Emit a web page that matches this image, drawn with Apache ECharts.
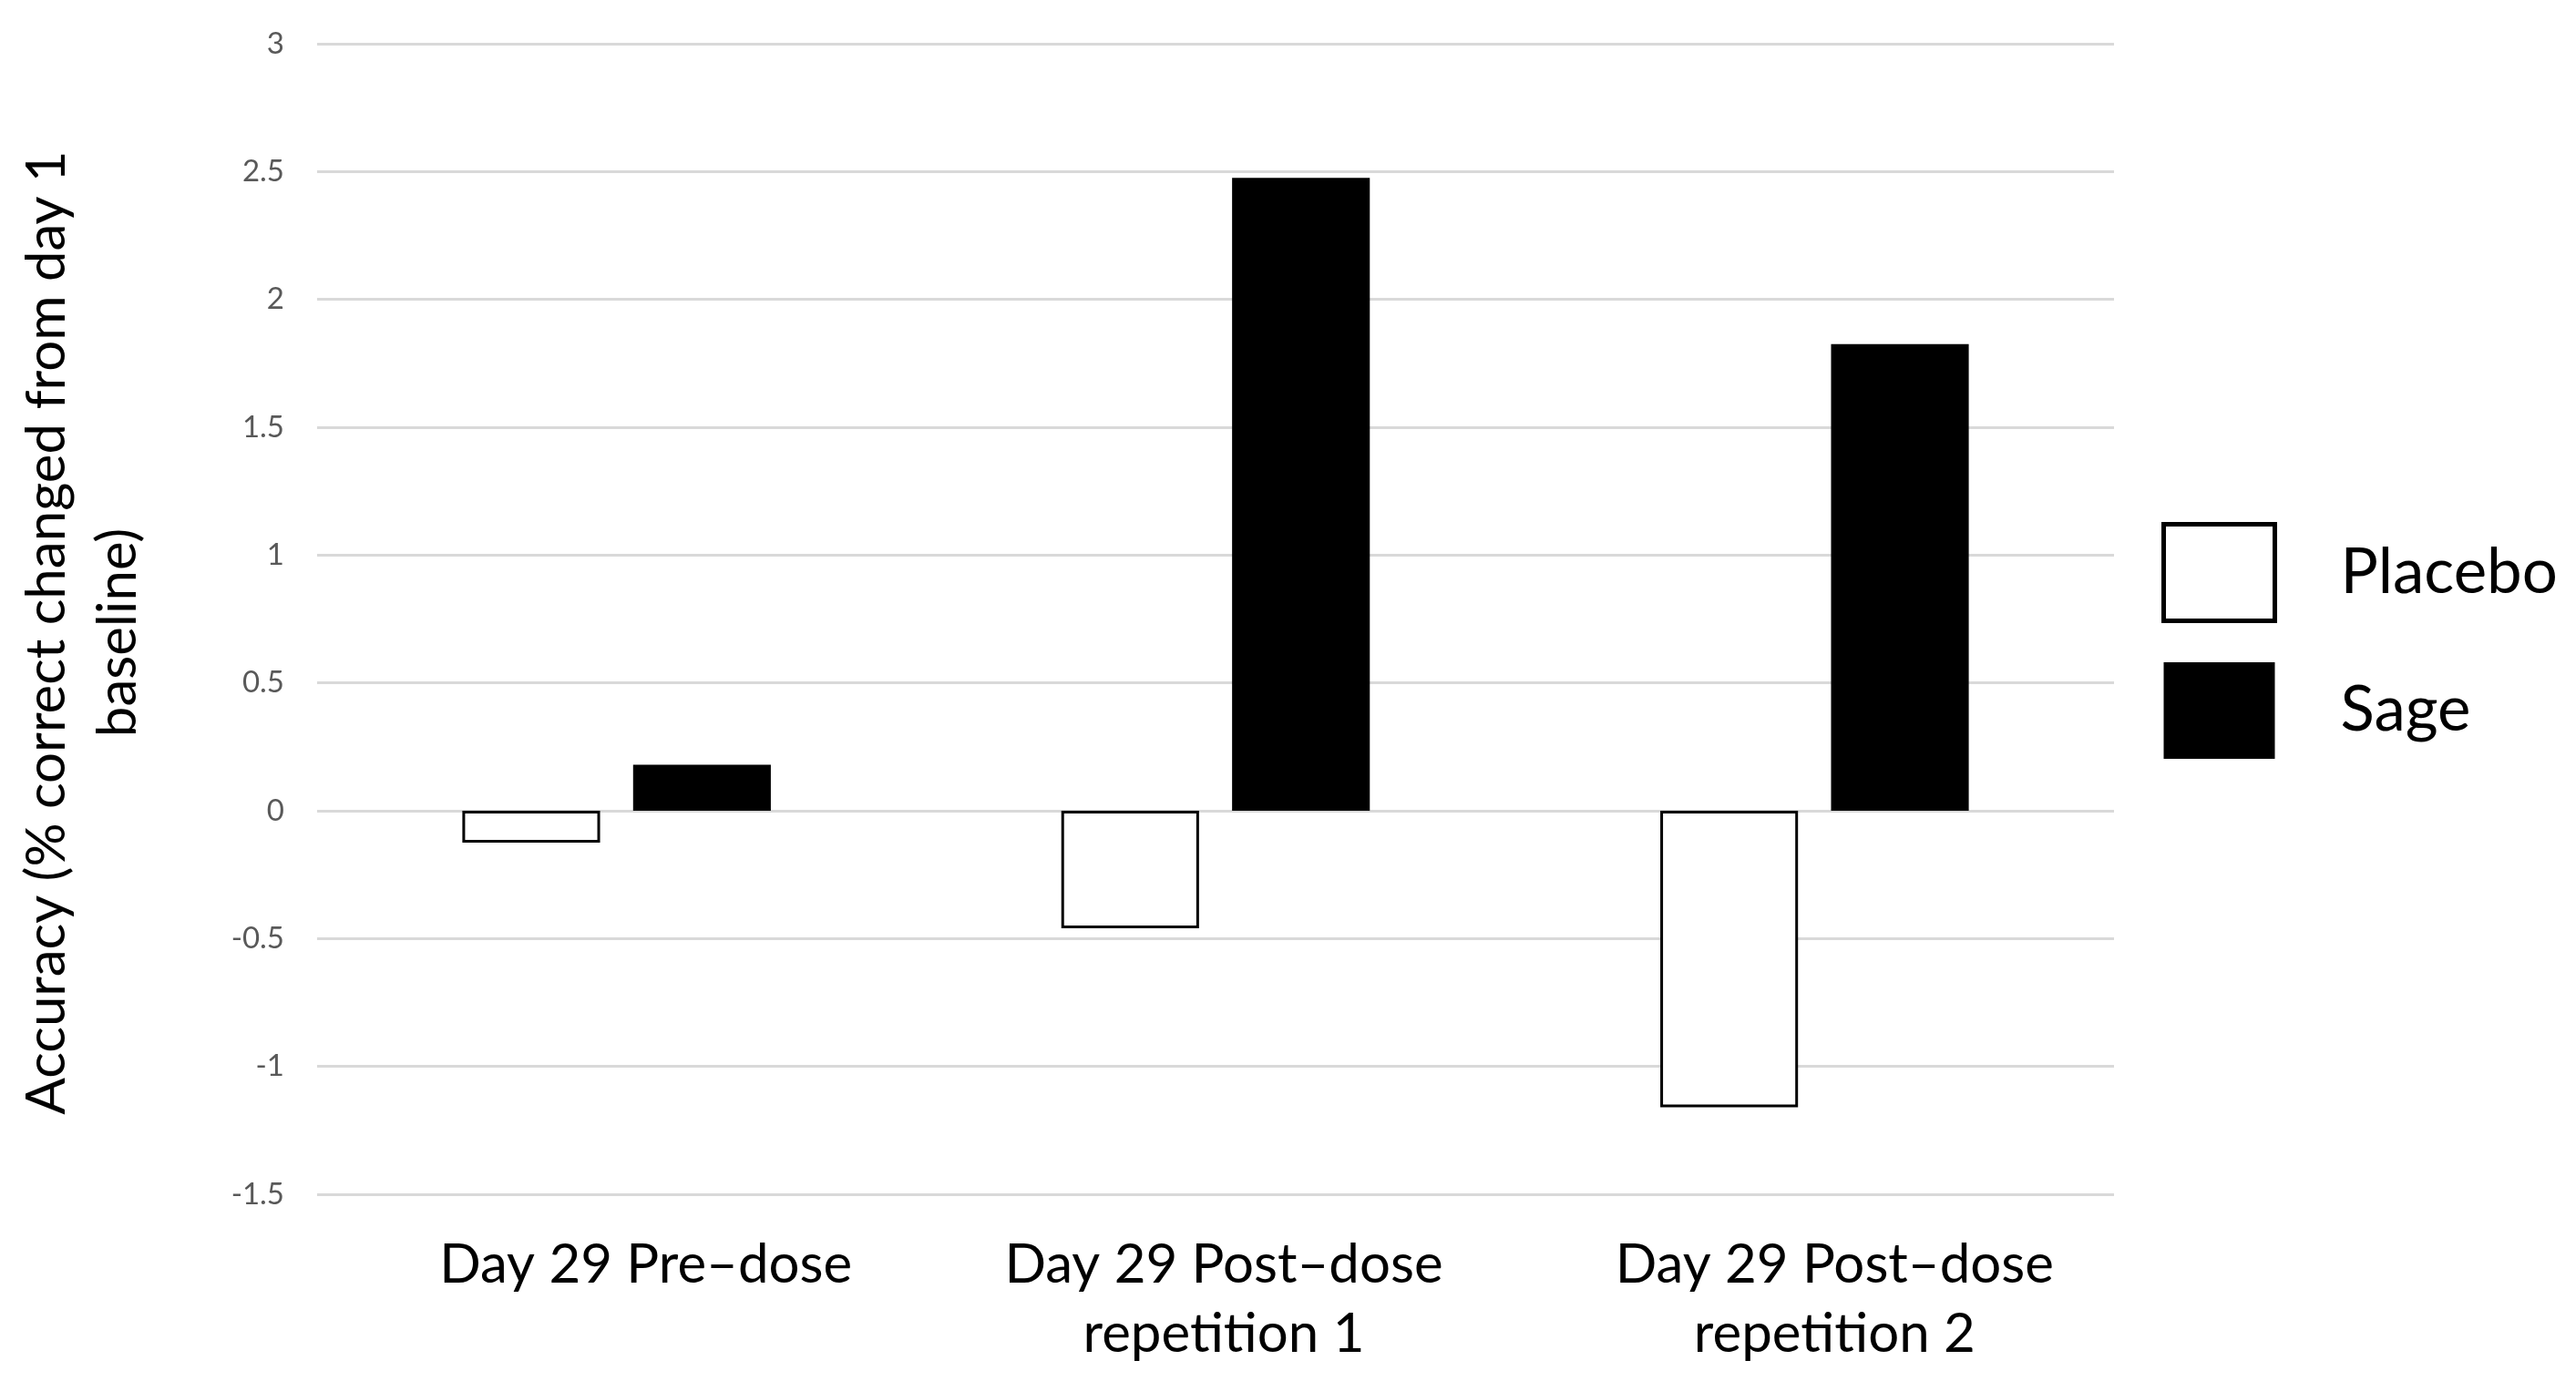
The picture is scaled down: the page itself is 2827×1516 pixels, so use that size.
<!DOCTYPE html>
<html>
<head>
<meta charset="utf-8">
<script src="https://cdn.jsdelivr.net/npm/echarts@6/dist/echarts.min.js"></script>
<style>html,body{margin:0;padding:0;background:#fff;}#c{width:2827px;height:1516px;}</style>
</head>
<body>
<div id="c"></div>
<script>
const categories = ['Day 29 Pre\u2013dose', 'Day 29 Post\u2013dose\nrepetition 1', 'Day 29 Post\u2013dose\nrepetition 2'];
const placebo = [-0.125, -0.46, -1.16];
const sage = [0.18, 2.475, 1.825];
const yMin = -1.5, yMax = 3, yStep = 0.5;
const yTitle = 'Accuracy (% correct changed from day 1\nbaseline)';

const catFont = {fontFamily: 'Lato', fontSize: 60, color: '#000', lineHeight: 76};
const labelShift = [64, 18, 44];

const chart = echarts.init(document.getElementById('c'), null, {renderer: 'canvas'});
chart.setOption({
  backgroundColor: '#ffffff',
  animation: false,
  textStyle: {fontFamily: 'Lato'},
  grid: {left: 348, right: 507, top: 48, bottom: 205, containLabel: false},
  legend: {
    orient: 'vertical',
    left: 2372,
    top: 573,
    padding: 0,
    itemWidth: 122,
    itemHeight: 106,
    itemGap: 43,
    icon: 'rect',
    textStyle: {fontFamily: 'Lato', fontSize: 69, color: '#000', padding: [18, 0, 0, 67]},
    data: [
      {name: 'Placebo', itemStyle: {color: '#fff', borderColor: '#000', borderWidth: 5}},
      {name: 'Sage', itemStyle: {color: '#000', borderWidth: 0}}
    ]
  },
  xAxis: {
    type: 'category',
    data: categories,
    axisLine: {show: false},
    axisTick: {show: false},
    axisLabel: {
      fontFamily: 'Lato', fontSize: 60, color: '#000', lineHeight: 76, margin: 40, interval: 0,
      formatter: function (v, i) {
        return v.split('\n').map(function (l) { return '{s' + i + '|' + l + '}'; }).join('\n');
      },
      rich: {
        s0: Object.assign({padding: [0, 0, 0, labelShift[0]]}, catFont),
        s1: Object.assign({padding: [0, 0, 0, labelShift[1]]}, catFont),
        s2: Object.assign({padding: [0, 0, 0, labelShift[2]]}, catFont)
      }
    }
  },
  yAxis: {
    type: 'value',
    min: yMin, max: yMax, interval: yStep,
    axisLine: {show: false},
    axisTick: {show: false},
    splitLine: {lineStyle: {color: '#d9d9d9', width: 3}},
    axisLabel: {fontFamily: 'Lato', fontSize: 33, color: '#595959', margin: 36},
    name: yTitle,
    nameLocation: 'middle',
    nameRotate: 90,
    nameGap: 179,
    nameTextStyle: {fontFamily: 'Lato', fontSize: 60, color: '#000', lineHeight: 78, align: 'center', padding: [0, 30, 0, 0]}
  },
  series: [
    {name: 'Placebo', type: 'bar', data: placebo, barGap: '24%', barCategoryGap: '48.5%',
     itemStyle: {color: '#fff', borderColor: '#000', borderWidth: 3}},
    {name: 'Sage', type: 'bar', data: sage,
     itemStyle: {color: '#000'}}
  ]
});
</script>
</body>
</html>
